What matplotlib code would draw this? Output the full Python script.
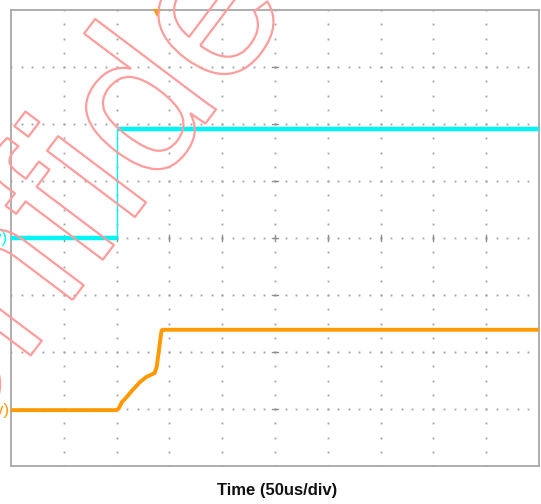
import numpy as np
import matplotlib.pyplot as plt
import matplotlib.patheffects as pe

plt.rcParams['font.family'] = ['Liberation Sans', 'DejaVu Sans']

# time axis: 50 us/div, 10 divisions centred on the trigger
t_min, t_max = -250, 250
# vertical: 8 divisions, trace levels in divisions
v_min, v_max = -4, 4

# channel 1 (cyan): step edge
ch1_t = [-250, -150, -150, 250]
ch1_v = [0.0, 0.0, 1.92, 1.92]

# channel 2 (orange): slow ramp then fast edge
ch2_t = [-250, -150, -148, -145, -140.5, -135, -128, -122, -114, -112, -109, -107.5, -106.5, 250]
ch2_v = [-3.02, -3.02, -2.99, -2.88, -2.79, -2.67, -2.53, -2.44, -2.37, -2.26, -1.84, -1.63, -1.61, -1.61]

trigger_t = -112

ch1_label = "Vin (5V/div)"
ch2_label = "Vout (2V/div)"
x_label = "Time (50us/div)"
watermark = "Confidential"

W, H = 541, 504
fig = plt.figure(figsize=(W / 100, H / 100), dpi=100)
fig.patch.set_facecolor('white')
ax = fig.add_axes([11 / W, (H - 466) / H, 528 / W, 456 / H])
ax.set_xlim(t_min, t_max)
ax.set_ylim(v_min, v_max)
ax.set_xticks([])
ax.set_yticks([])
for s in ax.spines.values():
    s.set_color('#a8a8a8')
    s.set_linewidth(1.3)

grid_c = '#a0a0a0'
# dotted graticule: 5 dots per div horizontally, 4 per div vertically
gx = np.arange(t_min, t_max + 0.1, 10)
for y in range(v_min + 1, v_max):
    ax.plot(gx, np.full_like(gx, y, dtype=float), ls='none', marker='s',
            ms=1.3, mew=0, color=grid_c, zorder=1)
gy = np.arange(v_min, v_max + 0.01, 0.25)
for x in range(t_min + 50, t_max, 50):
    ax.plot(np.full_like(gy, x, dtype=float), gy, ls='none', marker='s',
            ms=1.3, mew=0, color=grid_c, zorder=1)

# centre crosshair ticks
for x in range(t_min + 50, t_max, 50):
    ax.plot([x, x], [-0.06, 0.06], color='#909090', lw=1, zorder=1)
for y in range(v_min + 1, v_max):
    ax.plot([-2.5, 2.5], [y, y], color='#909090', lw=1, zorder=1)

# traces
cyan = '#00f5f5'
orange = '#ff9900'
ax.plot(ch1_t, ch1_v, color=cyan, lw=1.0, zorder=3)
ax.plot(ch1_t[:2], ch1_v[:2], color=cyan, lw=3.2, zorder=3, solid_capstyle='butt')
ax.plot(ch1_t[2:], ch1_v[2:], color=cyan, lw=3.2, zorder=3, solid_capstyle='butt')
ax.plot(ch2_t, ch2_v, color=orange, lw=2.8, zorder=3, solid_joinstyle='round')

# trigger marker
ax.plot([trigger_t], [v_max - 0.05], marker='v', ms=6, color=orange,
        mew=0, zorder=4, clip_on=False)

# channel labels, placed left of the graticule
ax.text(-4 / 528, (ch1_v[0] - v_min) / (v_max - v_min), ch1_label,
        transform=ax.transAxes, ha='right', va='center', color=cyan, fontsize=12)
ax.text(-2 / 528, (ch2_v[0] - v_min) / (v_max - v_min), ch2_label,
        transform=ax.transAxes, ha='right', va='center', color=orange, fontsize=12)

fig.text(277 / W, 1 - 491 / H, x_label, ha='center', va='center',
         fontsize=12, fontweight='bold', color='#111111')

# watermark: outlined text only
fig.text(193 / W, 1 - 140 / H, watermark, rotation=53, rotation_mode='anchor',
         ha='center', va='baseline', fontsize=150, color='none',
         path_effects=[pe.Stroke(linewidth=1.6, foreground='#ff9c9c')], zorder=10)

fig.savefig('out.png', dpi=100, facecolor='white')
